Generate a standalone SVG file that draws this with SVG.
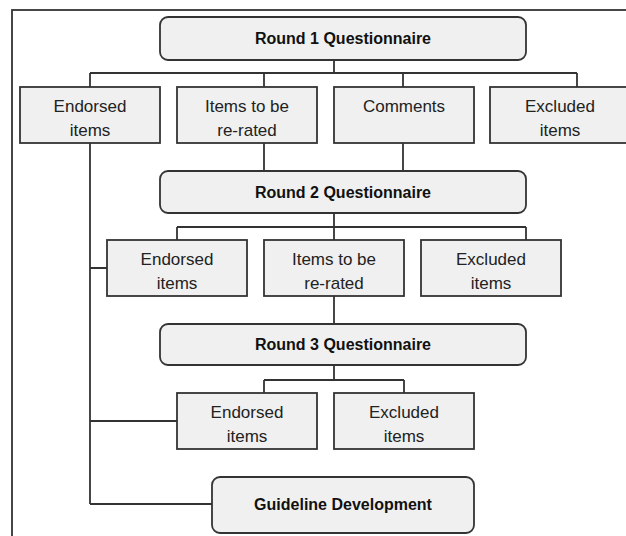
<svg xmlns="http://www.w3.org/2000/svg" width="626" height="536" viewBox="0 0 626 536">
<style>
.box{fill:#f0f0f0;stroke:#333;stroke-width:1.8}
.t{font-family:"Liberation Sans",Arial,sans-serif;font-size:17px;fill:#222;text-anchor:middle}
.b{font-family:"Liberation Sans",Arial,sans-serif;font-size:16px;font-weight:bold;fill:#111;text-anchor:middle}
.ln{fill:none;stroke:#333;stroke-width:1.8}
</style>
<rect x="0" y="0" width="626" height="536" fill="#fff"/>
<rect id="frame" x="12" y="10" width="660" height="600" fill="none" stroke="#333" stroke-width="1.8"/>
<g id="connectors" class="ln">
<path d="M334 60V73M90 73H577M90 73V87M264 73V87M403 73V87M577 73V87"/>
<path d="M90 143V504M264 143V171M403 143V171"/>
<path d="M334 213V227M177 227H526M177 227V240M334 227V240M526 227V240"/>
<path d="M90 268H107M334 296V324"/>
<path d="M334 365V380M264 380H404M264 380V393M404 380V393"/>
<path d="M90 421H177M90 504H212"/>
</g>
<g id="round1"><rect class="box" x="160" y="17" width="366" height="43" rx="8"/><text class="b" x="343" y="44">Round 1 Questionnaire</text></g>
<g id="r1-endorsed"><rect class="box" x="20" y="87" width="140" height="56"/><text class="t" x="90" y="112">Endorsed</text><text class="t" x="90" y="136">items</text></g>
<g id="r1-rerated"><rect class="box" x="177" y="87" width="140" height="56"/><text class="t" x="247" y="112">Items to be</text><text class="t" x="247" y="136">re-rated</text></g>
<g id="r1-comments"><rect class="box" x="334" y="87" width="140" height="56"/><text class="t" x="404" y="112">Comments</text></g>
<g id="r1-excluded"><rect class="box" x="490" y="87" width="140" height="56"/><text class="t" x="560" y="112">Excluded</text><text class="t" x="560" y="136">items</text></g>
<g id="round2"><rect class="box" x="160" y="171" width="366" height="42" rx="8"/><text class="b" x="343" y="198">Round 2 Questionnaire</text></g>
<g id="r2-endorsed"><rect class="box" x="107" y="240" width="140" height="56"/><text class="t" x="177" y="265">Endorsed</text><text class="t" x="177" y="289">items</text></g>
<g id="r2-rerated"><rect class="box" x="264" y="240" width="140" height="56"/><text class="t" x="334" y="265">Items to be</text><text class="t" x="334" y="289">re-rated</text></g>
<g id="r2-excluded"><rect class="box" x="421" y="240" width="140" height="56"/><text class="t" x="491" y="265">Excluded</text><text class="t" x="491" y="289">items</text></g>
<g id="round3"><rect class="box" x="160" y="324" width="366" height="41" rx="8"/><text class="b" x="343" y="350">Round 3 Questionnaire</text></g>
<g id="r3-endorsed"><rect class="box" x="177" y="393" width="140" height="56"/><text class="t" x="247" y="418">Endorsed</text><text class="t" x="247" y="442">items</text></g>
<g id="r3-excluded"><rect class="box" x="334" y="393" width="140" height="56"/><text class="t" x="404" y="418">Excluded</text><text class="t" x="404" y="442">items</text></g>
<g id="guideline"><rect class="box" x="212" y="477" width="262" height="56" rx="8"/><text class="b" x="343" y="510">Guideline Development</text></g>
</svg>
